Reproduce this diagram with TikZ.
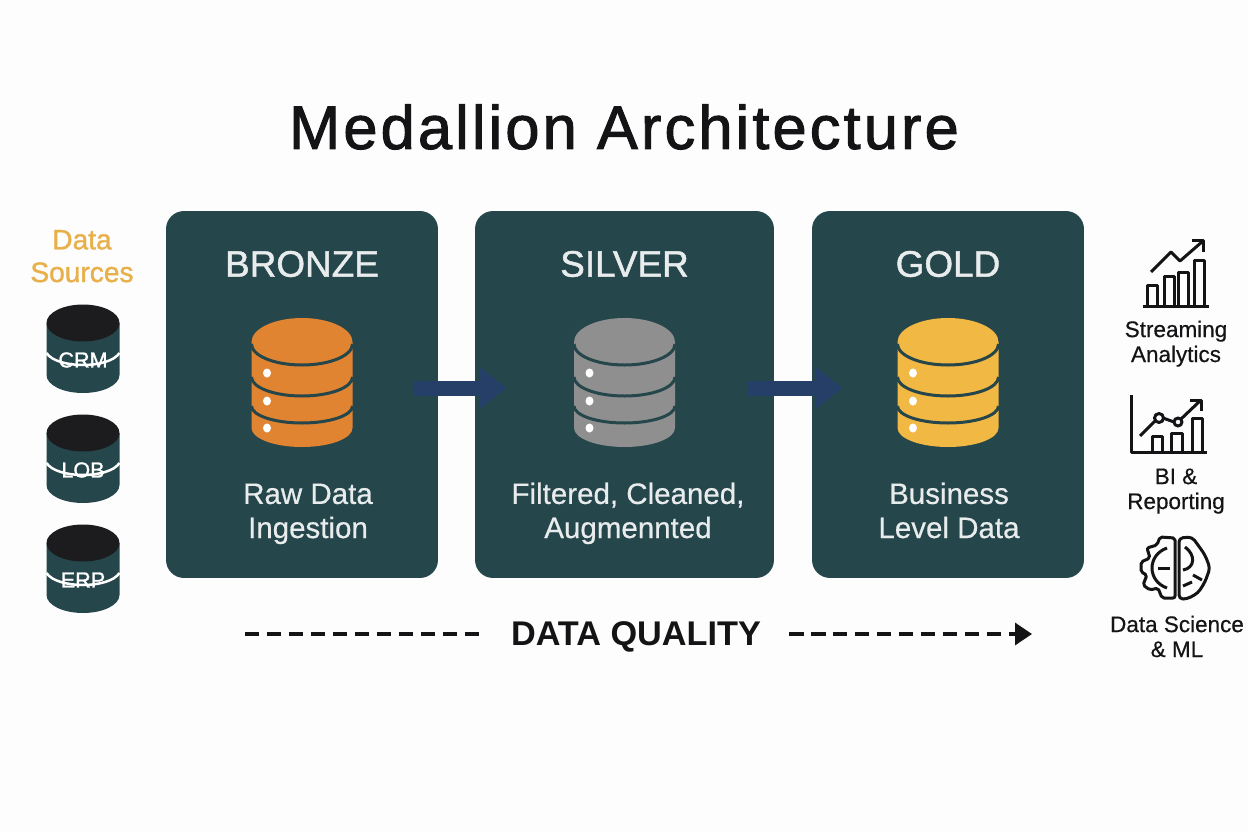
\documentclass[tikz,border=0pt]{standalone}
\usepackage{fontspec}
\setmainfont{Liberation Sans}
\newfontfamily\titlefont[FakeBold=1.6,LetterSpace=5]{Liberation Sans}
\newfontfamily\headfont[FakeBold=1.2]{Liberation Sans}
\newfontfamily\softfont[FakeBold=0.5]{Liberation Sans}
\usetikzlibrary{arrows.meta,calc,positioning}
\definecolor{panelteal}{HTML}{25464B}
\definecolor{inkblack}{HTML}{141416}
\definecolor{capblack}{HTML}{1C1C1F}
\definecolor{sourcegold}{HTML}{E8B04A}
\definecolor{bronzefill}{HTML}{E08432}
\definecolor{silverfill}{HTML}{8F8F8F}
\definecolor{goldfill}{HTML}{F2B844}
\definecolor{flowblue}{HTML}{263F68}
\definecolor{pagewhite}{HTML}{FDFDFD}

\begin{document}
\begin{tikzpicture}[x=0.02cm,y=-0.02cm,
  panel/.style={fill=panelteal,rounded corners=0.36cm,inner sep=0pt},
  tierhead/.style={text=white!90!panelteal,font=\headfont\fontsize{21}{24}\selectfont},
  tiertext/.style={text=white!90!panelteal,align=center,anchor=base,font=\softfont\fontsize{16.8}{19.4}\selectfont},
  outtext/.style={text=inkblack,align=center,anchor=base,font=\softfont\fontsize{12.8}{14.2}\selectfont},
  flow/.style={-{Triangle[length=0.54cm,width=0.8cm]},flowblue,line width=0.3cm},
  qual/.style={-{Triangle[length=0.34cm,width=0.44cm]},inkblack,line width=0.065cm,dash pattern=on 0.29cm off 0.15cm},
  qualplain/.style={inkblack,line width=0.065cm,dash pattern=on 0.29cm off 0.15cm},
  icon/.style={inkblack,line width=0.06cm,line join=round},
  dbstack/.pic={
    \fill[#1] (-50.5,0) arc[start angle=180,end angle=360,x radius=50.5,y radius=24]
      -- (50.5,86) arc[start angle=0,end angle=180,x radius=50.5,y radius=19] -- cycle;
    \foreach \y/\r in {2/21,35/19,64/17}
      \draw[panelteal,line width=0.06cm] (-50.5,\y) arc[start angle=180,end angle=0,x radius=50.5,y radius=\r];
    \foreach \y in {31,59,86}
      \fill[white] (-35,\y) ellipse[x radius=4,y radius=4.5];
  },
  srcdb/.pic={
    \fill[panelteal] (-36.5,0) -- (36.5,0) -- (36.5,52) arc[start angle=0,end angle=180,x radius=36.5,y radius=18] -- cycle;
    \draw[white,line width=0.05cm] (-36.5,30) .. controls (-26,46) and (26,46) .. (36.5,30);
    \fill[capblack] (0,0) ellipse[x radius=36.5,y radius=18.5];
  }]
\fill[pagewhite] (0,0) rectangle (1248,832);
\useasboundingbox (0,0) rectangle (1248,832);

\node[font=\titlefont\fontsize{35}{40}\selectfont,text=inkblack] (title) at (624,127) {Medallion Architecture};

% tiers
\node[panel,minimum width=5.44cm,minimum height=7.34cm] (bronze) at (302,394.5) {};
\node[panel,minimum width=5.98cm,minimum height=7.34cm] (silver) at (624.5,394.5) {};
\node[panel,minimum width=5.44cm,minimum height=7.34cm] (gold) at (948,394.5) {};
\foreach \t/\n/\c/\x/\d in {bronze/BRONZE/bronzefill/308/{Raw Data\\Ingestion},silver/SILVER/silverfill/628/{Filtered, Cleaned,\\Augmennted},gold/GOLD/goldfill/949/{Business\\Level Data}}{
  \node[tierhead] (\t head) at (\t.center |- 0,264) {\n};
  \pic at (\t.center |- 0,342) {dbstack=\c};
  \node[tiertext] (\t text) at (\x,538) {\d};
}

% flow between tiers
\coordinate (bs) at ($(bronze.east)+(-25,-6.5)$);
\coordinate (sb) at ($(silver.west)+(32,-6.5)$);
\coordinate (sg) at ($(silver.east)+(-27,-6.5)$);
\coordinate (gs) at ($(gold.west)+(31,-6.5)$);
\draw[flow] (bs)--(sb);
\draw[flow] (sg)--(gs);

% sources
\node[text=sourcegold,align=center,anchor=base,font=\headfont\fontsize{16}{18.6}\selectfont] (sources) at (82,282) {Data\\Sources};
\foreach \n/\y/\ty in {CRM/323/360,LOB/433/470,ERP/543/580}{
  \pic at (83,\y) {srcdb};
  \node[text=white,font=\headfont\fontsize{12.3}{14}\selectfont] (\n) at (83,\ty) {\n};
}

% quality
\node[font=\fontsize{19.5}{22}\selectfont\bfseries,text=inkblack] (quality) at (636,637) {DATA QUALITY};
\coordinate (qstart) at (245,634);
\coordinate (qstop) at (486,634);
\coordinate (qresume) at (789,634);
\coordinate (qend) at (1032,634);
\draw[qualplain] (qstart)--(qstop);
\draw[qual] (qresume)--(qend);

% consumers
\draw[icon] (1143,306)--(1209,306);
\foreach \l/\r/\h in {1147/1157/285,1164/1174/276,1178/1188/272,1194/1204/260}
  \draw[icon] (\l,306)--(\l,\h)--(\r,\h)--(\r,306);
\draw[icon] (1151,272)--(1171,252)--(1180,261)--(1203,241);
\draw[icon] (1192,240)--(1203,240)--(1203,252);
\node[outtext] (stream) at (1176,362) {Streaming\\Analytics};

\draw[icon] (1131,395)--(1131,452)--(1207,452);
\foreach \l/\r/\h in {1152/1162/436,1171/1182/433,1192/1202/418}
  \draw[icon] (\l,452)--(\l,\h)--(\r,\h)--(\r,452);
\draw[icon] (1140,436)--(1155,421) (1163,418)--(1174,422) (1181,419)--(1201,400);
\draw[icon] (1159,418) circle[radius=4.5];
\draw[icon] (1178,422) circle[radius=4];
\draw[icon] (1190,400)--(1201,400)--(1201,411);
\node[outtext] (bi) at (1176,509) {BI \&\\Reporting};

\draw[icon,rounded corners=0.04cm] (1175,538)--(1160,537)--(1157,545)--(1147,548)--(1150,558)--(1141,562)--(1141,572)--(1147,575)--(1143,585)--(1150,590)--(1158,588)--(1162,598)--(1175,598)--cycle;
\draw[icon,rounded corners=0.08cm] (1179,538)--(1192,537)--(1198,545)--(1205,555)--(1210,568)--(1205,582)--(1198,593)--(1187,599)--(1179,599)--cycle;
\draw[icon] (1167,548) .. controls (1147,555) and (1147,581) .. (1167,588);
\draw[icon] (1158,568)--(1170,568);
\draw[icon] (1185,547) .. controls (1196,555) and (1195,568) .. (1183,570) (1193,575)--(1202,580) (1183,586)--(1192,582);
\node[outtext] (ml) at (1177,657) {Data Science\\\& ML};
\end{tikzpicture}
\end{document}
